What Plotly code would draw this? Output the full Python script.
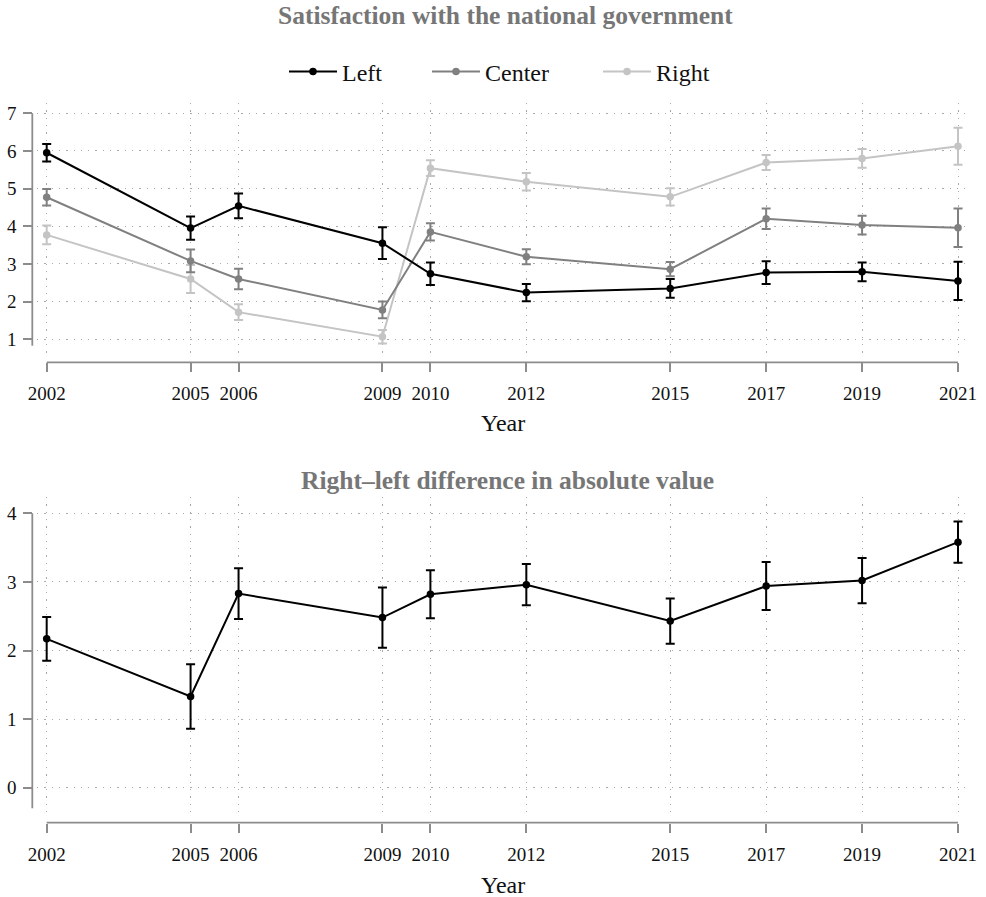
import plotly.graph_objects as go

# Survey waves
years = [2002, 2005, 2006, 2009, 2010, 2012, 2015, 2017, 2019, 2021]
year_labels = [str(y) for y in years]

# Mean satisfaction with the national government by political self-placement,
# with 95% confidence half-widths
left = [5.95, 3.95, 4.54, 3.55, 2.74, 2.24, 2.35, 2.77, 2.79, 2.55]
left_ci = [0.23, 0.31, 0.33, 0.42, 0.30, 0.23, 0.25, 0.30, 0.25, 0.51]
center = [4.77, 3.08, 2.60, 1.78, 3.85, 3.19, 2.86, 4.20, 4.03, 3.96]
center_ci = [0.22, 0.30, 0.27, 0.22, 0.23, 0.20, 0.19, 0.27, 0.25, 0.51]
right = [3.77, 2.60, 1.72, 1.07, 5.54, 5.18, 4.78, 5.69, 5.80, 6.12]
right_ci = [0.25, 0.37, 0.21, 0.18, 0.21, 0.23, 0.23, 0.20, 0.25, 0.49]

# Absolute right-left gap
diff = [2.17, 1.33, 2.83, 2.48, 2.82, 2.96, 2.43, 2.94, 3.02, 3.58]
diff_ci = [0.32, 0.47, 0.37, 0.44, 0.35, 0.30, 0.33, 0.35, 0.33, 0.30]

top_yticks = [1, 2, 3, 4, 5, 6, 7]
bottom_yticks = [0, 1, 2, 3, 4]

W, H = 986, 897
FONT = "Liberation Serif"
AXIS_GRAY = "#8c8c8c"
GRID = "#aaaaaa"
TITLE_GRAY = "#767676"


def px_x(p):
    return p / W


def px_y(p):
    return 1 - p / H


fig = go.Figure()


def add_series(name, y, ci, color, legend, xa="x", ya="y", show=True):
    fig.add_trace(go.Scatter(
        x=years, y=y, name=name, mode="lines+markers",
        line=dict(color=color, width=2),
        marker=dict(color=color, size=7.5),
        error_y=dict(type="data", array=ci, visible=True, color=color,
                     thickness=2, width=4.5),
        xaxis=xa, yaxis=ya, legend=legend, showlegend=show,
    ))


add_series("Right", right, right_ci, "#c4c4c4", "legend3")
add_series("Center", center, center_ci, "#808080", "legend2")
add_series("Left", left, left_ci, "#000000", "legend")
add_series("Difference", diff, diff_ci, "#000000", "legend", "x2", "y2", False)

x_range = [2001.798, 2021.25]
x_domain = [px_x(37), px_x(970)]

common_x = dict(
    range=x_range, domain=x_domain, tickvals=years, ticktext=year_labels,
    anchor="free", showline=False, zeroline=False, automargin=False,
    ticks="outside", ticklen=9, tickwidth=1.5, tickcolor=AXIS_GRAY,
    showgrid=True, gridcolor=GRID, gridwidth=1.3, griddash="1.3px,6px",
    tickfont=dict(family=FONT, size=19, color="#111"),
    ticklabelstandoff=5,
)
common_y = dict(
    anchor="free", position=px_x(32.3), showline=False, zeroline=False,
    automargin=False,
    ticks="outside", ticklen=9, tickwidth=1.5, tickcolor=AXIS_GRAY,
    showgrid=True, gridcolor=GRID, gridwidth=1.3, griddash="1.3px,6px",
    tickfont=dict(family=FONT, size=19, color="#111"),
    ticklabelstandoff=3,
)

fig.update_layout(
    width=W, height=H, margin=dict(l=0, r=0, t=0, b=0, autoexpand=False),
    paper_bgcolor="white", plot_bgcolor="white",
    font=dict(family=FONT, color="#111"),
    xaxis=dict(common_x, position=px_y(362.3)),
    yaxis=dict(common_y, domain=[px_y(354), px_y(103)], range=[0.61, 7.27],
               tickvals=top_yticks),
    xaxis2=dict(common_x, position=px_y(822.7)),
    yaxis2=dict(common_y, domain=[px_y(816.7), px_y(497)],
                range=[-0.423, 4.238], tickvals=bottom_yticks),
    showlegend=True,
)

legend_common = dict(orientation="h", yanchor="middle", y=px_y(72),
                     xanchor="left", bgcolor="rgba(0,0,0,0)",
                     font=dict(family=FONT, size=24, color="#111"),
                     itemwidth=48)
fig.update_layout(
    legend=dict(legend_common, x=px_x(284)),
    legend2=dict(legend_common, x=px_x(427)),
    legend3=dict(legend_common, x=px_x(598)),
)

# Axis lines spanning only the data extent
shapes = []
for xa, ya, ypos, y0, y1 in [("x", "y", px_y(362.3), 0.83, 7),
                             ("x2", "y2", px_y(822.7), -0.30, 4)]:
    shapes.append(dict(type="line", xref=xa, yref="paper", x0=2002, x1=2021,
                       y0=ypos, y1=ypos, line=dict(color=AXIS_GRAY, width=1.8)))
    shapes.append(dict(type="line", xref="paper", yref=ya, x0=px_x(32.3),
                       x1=px_x(32.3), y0=y0, y1=y1,
                       line=dict(color=AXIS_GRAY, width=1.8)))
fig.update_layout(shapes=shapes)

annotations = [
    dict(text="<b>Satisfaction with the national government</b>",
         x=px_x(505), y=px_y(16), font=dict(size=25.5, color=TITLE_GRAY)),
    dict(text="<b>Right\u2013left difference in absolute value</b>",
         x=px_x(508), y=px_y(480), font=dict(size=25.5, color=TITLE_GRAY)),
    dict(text="Year", x=px_x(503), y=px_y(423), font=dict(size=24)),
    dict(text="Year", x=px_x(503), y=px_y(885), font=dict(size=24)),
]
for a in annotations:
    a.update(xref="paper", yref="paper", showarrow=False,
             xanchor="center", yanchor="middle")
    a["font"]["family"] = FONT
fig.update_layout(annotations=annotations)

fig.write_html("out.html")
